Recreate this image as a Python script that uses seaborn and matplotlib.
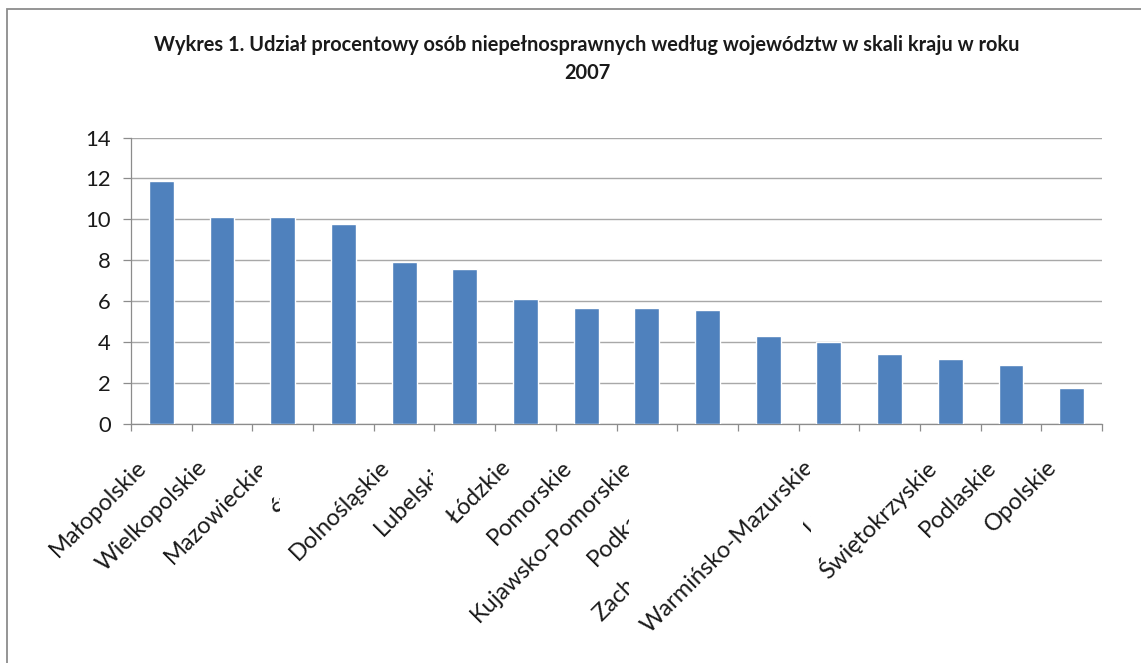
import matplotlib
matplotlib.use("Agg")
import matplotlib.pyplot as plt
import matplotlib.transforms as mtransforms
from matplotlib.patches import Rectangle
import seaborn as sns
import pandas as pd

# ---- data ----
categories = ["Małopolskie", "Wielkopolskie", "Mazowieckie", "Śląskie",
              "Dolnośląskie", "Lubelskie", "Łódzkie", "Pomorskie",
              "Kujawsko-Pomorskie", "Podkarpackie", "Zachodniopomorskie",
              "Warmińsko-Mazurskie", "Lubuskie", "Świętokrzyskie",
              "Podlaskie", "Opolskie"]
values = [11.88, 10.11, 10.11, 9.77, 7.91, 7.57, 6.10, 5.65,
          5.65, 5.55, 4.28, 4.03, 3.40, 3.20, 2.86, 1.78]
y_ticks = [0, 2, 4, 6, 8, 10, 12, 14]
title = ("Wykres 1. Udział procentowy osób niepełnosprawnych według województw w skali kraju w roku\n"
         "2007")

df = pd.DataFrame({"woj": categories, "udzial": values})

sns.set_style("white")
plt.rcParams["font.family"] = ["Lato", "DejaVu Sans"]

W, H = 1141, 663
fig = plt.figure(figsize=(W / 100, H / 100), dpi=100)
ax = fig.add_axes([131 / W, 1 - 424 / H, (1102 - 131) / W, (424 - 137.5) / H])

sns.barplot(data=df, x="woj", y="udzial", color="#4F81BD", saturation=1,
            width=0.41, ax=ax, zorder=3)

ax.set_ylim(0, 14)
ax.set_xlim(-0.5, len(categories) - 0.5)
ax.set_yticks(y_ticks)
ax.set_yticklabels([str(t) for t in y_ticks], fontsize=15.8, color="#1a1a1a")
ax.set_xlabel("")
ax.set_ylabel("")
ax.grid(axis="y", color="#a8a8a8", linewidth=1.0, zorder=0)
ax.set_axisbelow(True)

for s in ["top", "right"]:
    ax.spines[s].set_visible(False)
for s in ["left", "bottom"]:
    ax.spines[s].set_color("#8c8c8c")
    ax.spines[s].set_linewidth(0.9)

ax.tick_params(axis="y", length=5.5, width=0.9, color="#8c8c8c", pad=9, left=True)
ax.set_xticks([i - 0.5 for i in range(len(categories) + 1)])
ax.set_xticklabels([])
ax.tick_params(axis="x", length=5, width=0.9, color="#8c8c8c", bottom=True)

# category labels (Excel-like rotated + clipped)
base = ax.get_xaxis_transform()
trans = mtransforms.offset_copy(base, fig=fig, x=-18, y=-40, units="dots")
clip = {2: (0, 262), 3: (272, 280), 5: (0, 433), 8: (0, 629), 9: (0, 629),
        10: (0, 629), 11: (0, 810), 12: (803, 811)}
for i, name in enumerate(categories):
    t = ax.text(i, 0, name, transform=trans, rotation=45, ha="right", va="center",
                rotation_mode="anchor", fontsize=17, color="#1a1a1a")
    if i in clip:
        x0, x1 = clip[i]
        bb = mtransforms.TransformedBbox(
            mtransforms.Bbox.from_extents(x0 / W, 0, x1 / W, 1), fig.transFigure)
        t.set_clip_box(bb)
        t.set_clip_on(True)
    else:
        t.set_clip_on(False)

fig.text(587 / W, 1 - 59 / H, title, ha="center", va="center", fontsize=14.4,
         fontweight="bold", linespacing=1.55, color="#1a1a1a")

# chart-area border (top and left visible)
fig.patches.append(Rectangle((7 / W, -0.1), 1.2, (H - 9) / H + 0.1,
                             transform=fig.transFigure, fill=False,
                             edgecolor="#8c8c8c", linewidth=1.3))

fig.savefig("out.png", dpi=100)
